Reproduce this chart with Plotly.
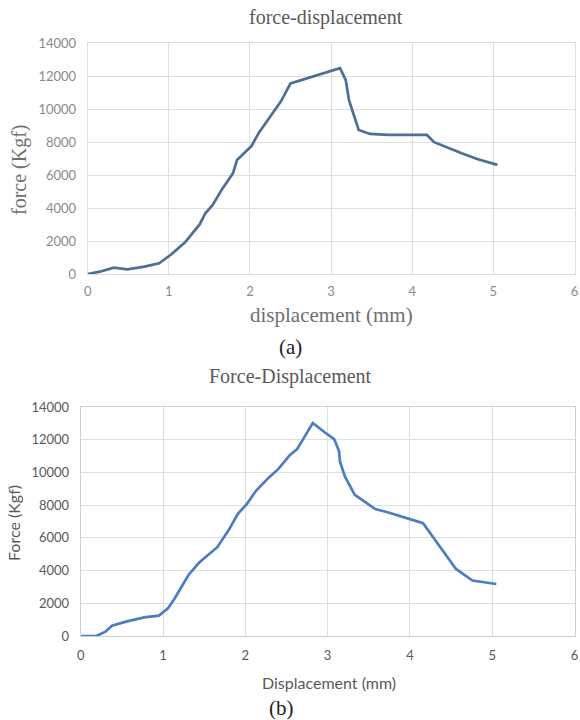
import plotly.graph_objects as go

# Chart (a)
disp_a = [0.0, 0.15, 0.32, 0.49, 0.70, 0.88, 1.02, 1.20, 1.38, 1.45, 1.54, 1.65, 1.79, 1.84,
          2.02, 2.11, 2.22, 2.38, 2.50, 3.11, 3.18, 3.22, 3.28, 3.34, 3.48, 3.70, 4.18, 4.27,
          4.61, 4.80, 5.05]
force_a = [0, 140, 385, 283, 445, 648, 1150, 1920, 3010, 3680, 4190, 5100, 6110, 6920,
           7770, 8580, 9350, 10460, 11570, 12490, 11780, 10570, 9650, 8740, 8500, 8440, 8440, 8000,
           7330, 6980, 6620]

# Chart (b)
disp_b = [0.0, 0.19, 0.30, 0.38, 0.55, 0.77, 0.95, 1.06, 1.13, 1.31, 1.44, 1.66, 1.80, 1.91,
          2.02, 2.13, 2.29, 2.40, 2.54, 2.63, 2.71, 2.82, 2.96, 3.08, 3.14, 3.15, 3.21, 3.25,
          3.33, 3.58, 3.74, 3.99, 4.16, 4.30, 4.56, 4.76, 5.05]
force_b = [0, 0, 265, 630, 880, 1140, 1245, 1690, 2200, 3730, 4490, 5430, 6490, 7470,
           8080, 8880, 9710, 10200, 11060, 11430, 12100, 13020, 12470, 12040, 11290, 10670, 9760, 9350,
           8630, 7760, 7550, 7160, 6900, 5920, 4100, 3390, 3180]

x_ticks = [0, 1, 2, 3, 4, 5, 6]
x_labels = ["0", "1", "2", "3", "4", "5", "6"]
y_ticks = [0, 2000, 4000, 6000, 8000, 10000, 12000, 14000]
y_labels = ["0", "2000", "4000", "6000", "8000", "10000", "12000", "14000"]

W, H = 580, 720
def px(x): return x / W
def py(y): return 1 - y / H

fig = go.Figure()
fig.add_trace(go.Scatter(x=disp_a, y=force_a, mode="lines", xaxis="x", yaxis="y",
                         line=dict(color="#4d6f97", width=2.7), showlegend=False))
fig.add_trace(go.Scatter(x=disp_b, y=force_b, mode="lines", xaxis="x2", yaxis="y2",
                         line=dict(color="#4a7ebf", width=2.7), showlegend=False))

grid = "#dedede"
tickfont_a = dict(family="Lato", size=13, color="#8a8a8a")
tickfont_b = dict(family="Lato", size=13, color="#595959")

common = dict(showgrid=True, gridcolor=grid, zeroline=False, showline=True, mirror=True,
              ticks="", automargin=False)

fig.update_layout(
    width=W, height=H,
    margin=dict(l=0, r=0, t=0, b=0),
    paper_bgcolor="white", plot_bgcolor="white",
    xaxis=dict(domain=[px(87.7), px(574.5)], anchor="y", range=[0, 6], tickvals=x_ticks,
               ticktext=x_labels, linecolor=grid, tickfont=tickfont_a, ticklabelstandoff=5, **common),
    yaxis=dict(domain=[py(274), py(43.3)], anchor="x", range=[0, 14000], tickvals=y_ticks,
               ticktext=y_labels, linecolor=grid, tickfont=tickfont_a, ticklabelstandoff=8, **common),
    xaxis2=dict(domain=[px(80.7), px(574.5)], anchor="y2", range=[0, 6], tickvals=x_ticks,
                ticktext=x_labels, linecolor="#d0d0d0", tickfont=tickfont_b, ticklabelstandoff=7, **common),
    yaxis2=dict(domain=[py(636), py(407)], anchor="x2", range=[0, 14000], tickvals=y_ticks,
                ticktext=y_labels, linecolor="#d0d0d0", tickfont=tickfont_b, ticklabelstandoff=8, **common),
)

serif = "Liberation Serif"
ann = [
    dict(text="force-displacement", x=px(326), y=py(17), font=dict(family=serif, size=20, color="#595959")),
    dict(text="displacement (mm)", x=px(331), y=py(315), font=dict(family=serif, size=21, color="#6f6f6f")),
    dict(text="force (Kgf)", x=px(19), y=py(170), textangle=-90, font=dict(family=serif, size=20, color="#6f6f6f")),
    dict(text="(a)", x=px(290), y=py(347), font=dict(family=serif, size=21, color="#222222")),
    dict(text="Force-Displacement", x=px(290), y=py(376), font=dict(family=serif, size=20, color="#595959")),
    dict(text="Displacement (mm)", x=px(329), y=py(682), font=dict(family="Lato", size=16, color="#595959")),
    dict(text="Force (Kgf)", x=px(13), y=py(523), textangle=-90, font=dict(family="Lato", size=16, color="#595959")),
    dict(text="(b)", x=px(281), y=py(708), font=dict(family=serif, size=21, color="#222222")),
]
for a in ann:
    a.update(xref="paper", yref="paper", showarrow=False, xanchor="center", yanchor="middle")
fig.update_layout(annotations=ann)

fig.write_html("out.html", config={"displayModeBar": False},
               post_script="document.body.style.margin='0';document.body.style.overflow='hidden';")
